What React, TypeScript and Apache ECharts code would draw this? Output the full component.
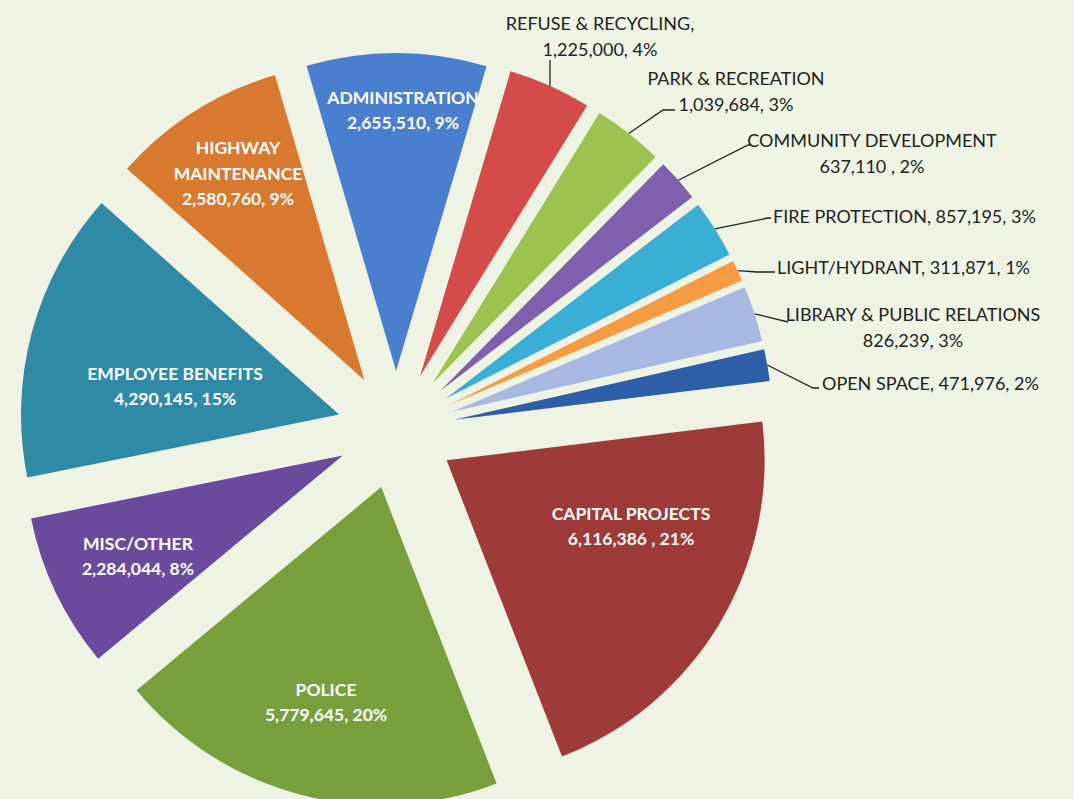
import React, { useEffect, useRef } from 'react';
import * as echarts from 'echarts';

// ---- data ----
const categories = [
  'CAPITAL PROJECTS', 'POLICE', 'MISC/OTHER', 'EMPLOYEE BENEFITS', 'HIGHWAY MAINTENANCE',
  'ADMINISTRATION', 'REFUSE & RECYCLING', 'PARK & RECREATION', 'COMMUNITY DEVELOPMENT',
  'FIRE PROTECTION', 'LIGHT/HYDRANT', 'LIBRARY & PUBLIC RELATIONS', 'OPEN SPACE',
];
const values = [
  6116386, 5779645, 2284044, 4290145, 2580760, 2655510, 1225000,
  1039684, 637110, 857195, 311871, 826239, 471976,
];
const labelTexts = [
  'CAPITAL PROJECTS\n6,116,386 , 21%',
  'POLICE\n5,779,645, 20%',
  'MISC/OTHER\n2,284,044, 8%',
  'EMPLOYEE BENEFITS\n4,290,145, 15%',
  'HIGHWAY\nMAINTENANCE\n2,580,760, 9%',
  'ADMINISTRATION\n2,655,510, 9%',
  'REFUSE & RECYCLING,\n1,225,000, 4%',
  'PARK & RECREATION\n1,039,684, 3%',
  'COMMUNITY DEVELOPMENT\n637,110 , 2%',
  'FIRE PROTECTION, 857,195, 3%',
  'LIGHT/HYDRANT, 311,871, 1%',
  'LIBRARY & PUBLIC RELATIONS\n826,239, 3%',
  'OPEN SPACE, 471,976, 2%',
];

// ---- styles / layout ----
const colors = [
  '#9e3b39', '#77a03c', '#6a4a9c', '#2f8aa6', '#d8792f', '#4a7fcf', '#d34b4b',
  '#9cc24f', '#7f60ae', '#3aaed5', '#f59b43', '#a7b9e2', '#2e5ea7',
];
const insideLabel = [true, true, true, true, true, true, false, false, false, false, false, false, false];
const labelPos: [number, number, string][] = [
  [631, 526, 'center'],
  [326, 702, 'center'],
  [138, 556, 'center'],
  [175, 386, 'center'],
  [238, 173, 'center'],
  [403, 110, 'center'],
  [600, 36, 'center'],
  [736, 91, 'center'],
  [872, 153, 'center'],
  [773, 216, 'left'],
  [777, 267, 'left'],
  [913, 327, 'center'],
  [822, 383, 'left'],
];
// leader line points after the slice anchor (null x = same x as anchor)
const leaderTail: (number | null)[][][] = [
  [], [], [], [], [], [],
  [[null, 60]],
  [[663, 110], [675, 110]],
  [[748, 145], [751, 145]],
  [[768, 218], [771, 218]],
  [[757, 272], [775, 272]],
  [[788, 322]],
  [[813, 388], [819, 388]],
];
const FONT = "Lato, 'Noto Sans', sans-serif";
const CENTER = [396, 430];
const RADIUS = 318;
const EXPLODE = 59;
const START_ANGLE = 7;

export default function App() {
  const ref = useRef<HTMLDivElement>(null);
  useEffect(() => {
    if (!ref.current) return;
    const chart = echarts.init(ref.current, null, { renderer: 'svg' });
    const total = values.reduce((a, b) => a + b, 0);
    let cum = 0;
    const series = categories.map((_, k) => {
      const mid = cum + values[k] / 2;
      cum += values[k];
      const ang = ((-START_ANGLE + (360 * mid) / total) * Math.PI) / 180;
      const center = [CENTER[0] + EXPLODE * Math.cos(ang), CENTER[1] + EXPLODE * Math.sin(ang)];
      const inside = insideLabel[k];
      return {
        type: 'pie',
        silent: true,
        center,
        radius: [0, RADIUS],
        startAngle: START_ANGLE,
        clockwise: true,
        avoidLabelOverlap: false,
        emphasis: { disabled: true },
        data: categories.map((name, i) => ({
          name,
          value: values[i],
          itemStyle: { color: i === k ? colors[i] : 'rgba(0,0,0,0)' },
          label: { show: i === k },
          labelLine: { show: i === k && !inside },
        })),
        label: {
          position: inside ? 'inside' : 'outside',
          formatter: (p: any) => labelTexts[p.dataIndex],
          fontFamily: FONT,
          fontSize: inside ? 17.5 : 18,
          fontWeight: inside ? 'bold' : 'normal',
          color: inside ? '#ffffff' : '#222222',
          lineHeight: 25.5,
        },
        labelLine: {
          length: 10,
          length2: 10,
          lineStyle: { color: '#222222', width: 1.3 },
        },
        labelLayout: (p: any) => {
          const i = p.dataIndex;
          if (i !== k) return {};
          const pos = labelPos[i];
          const res: any = { x: pos[0], y: pos[1], align: pos[2], verticalAlign: 'middle' };
          if (!inside && p.labelLinePoints) {
            const a = p.labelLinePoints[0];
            res.labelLinePoints = [
              [a[0], a[1]],
              ...leaderTail[i].map((pt) => [pt[0] == null ? a[0] : pt[0], pt[1]]),
            ];
          }
          return res;
        },
      };
    });
    chart.setOption({
      animation: false,
      backgroundColor: '#eef3e3',
      series,
    });
    return () => chart.dispose();
  }, []);
  return (
    <div
      ref={ref}
      style={{ position: 'absolute', left: 0, top: 0, width: 1074, height: 799 }}
    />
  );
}
